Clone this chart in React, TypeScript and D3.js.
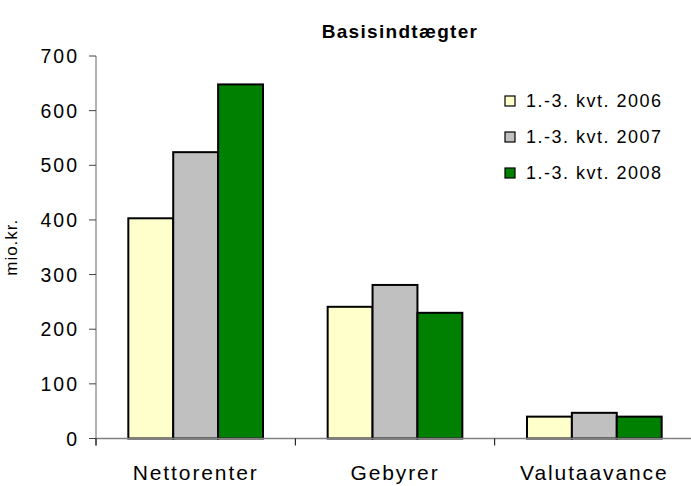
import React from "react";
import * as d3 from "d3";

const categories = ["Nettorenter", "Gebyrer", "Valutaavance"];
const seriesNames = ["1.-3. kvt. 2006", "1.-3. kvt. 2007", "1.-3. kvt. 2008"];
const seriesColors = ["#FFFFCC", "#C0C0C0", "#008000"];
const values2006 = [403, 241, 40];
const values2007 = [524, 281, 47];
const values2008 = [648, 230, 40];
const yTicks = [0, 100, 200, 300, 400, 500, 600, 700];

const W = 691;
const H = 486;
const font = "Arial, 'Liberation Sans', Helvetica, sans-serif";

const App = () => {
    const series = [values2006, values2007, values2008];
    const margin = { left: 96, right: 694, top: 56, bottom: 438.5 };

    const x = d3.scaleBand<string>()
        .domain(categories)
        .range([margin.left, margin.right])
        .paddingInner(0)
        .paddingOuter(0);
    // bars ~45px wide, ~32px gap at each side of a group
    const inner = d3.scaleBand<number>()
        .domain([0, 1, 2])
        .range([0, x.bandwidth()])
        .paddingInner(0)
        .paddingOuter(0.72);
    const y = d3.scaleLinear().domain([0, 700]).range([margin.bottom, margin.top]);

    const boundaries = categories.map(c => x(c)!).concat([margin.right]);

    return (
        <svg width={W} height={H} style={{ display: "block", position: "absolute", left: 0, top: 0 }} fontFamily={font}>
            <rect width={W} height={H} fill="#fff" />
            <text x={400} y={38} textAnchor="middle" fontSize={19} fontWeight="bold" letterSpacing={1.3}>
                Basisindtægter
            </text>

            {/* bars */}
            {categories.map((c, ci) => (
                <g key={c}>
                    {series.map((s, si) => (
                        <rect
                            key={si}
                            x={x(c)! + inner(si)!}
                            y={y(s[ci])}
                            width={inner.bandwidth()}
                            height={y(0) - y(s[ci])}
                            fill={seriesColors[si]}
                            stroke="#000"
                            strokeWidth={2}
                        />
                    ))}
                </g>
            ))}

            {/* y axis */}
            <line x1={margin.left} x2={margin.left} y1={margin.top} y2={margin.bottom + 7} stroke="#666" />
            {yTicks.map(t => (
                <g key={t}>
                    <line x1={margin.left - 7} x2={margin.left} y1={y(t)} y2={y(t)} stroke="#444" />
                    <text x={79} y={y(t)} dy="0.36em" textAnchor="end" fontSize={19.5} letterSpacing={2}>
                        {t}
                    </text>
                </g>
            ))}
            <text transform={`translate(17,${(margin.top + margin.bottom) / 2}) rotate(-90)`} textAnchor="middle" fontSize={17} letterSpacing={1}>
                mio.kr.
            </text>

            {/* x axis */}
            <line x1={margin.left} x2={margin.right} y1={margin.bottom} y2={margin.bottom} stroke="#808080" strokeWidth={1.5} />
            {boundaries.map((b, i) => (
                <line key={i} x1={b} x2={b} y1={margin.bottom} y2={margin.bottom + 7} stroke="#000" />
            ))}
            {categories.map(c => (
                <text key={c} x={x(c)! + x.bandwidth() / 2} y={480} textAnchor="middle" fontSize={21} letterSpacing={1.9}>
                    {c}
                </text>
            ))}

            {/* legend */}
            {seriesNames.map((n, i) => (
                <g key={n} transform={`translate(505,${96 + i * 36})`}>
                    <rect x={0} y={0} width={10} height={10} fill={seriesColors[i]} stroke="#000" strokeWidth={1.2} />
                    <text x={21} y={5} dy="0.36em" fontSize={18} letterSpacing={1.5}>
                        {n}
                    </text>
                </g>
            ))}
        </svg>
    );
};

export default App;
